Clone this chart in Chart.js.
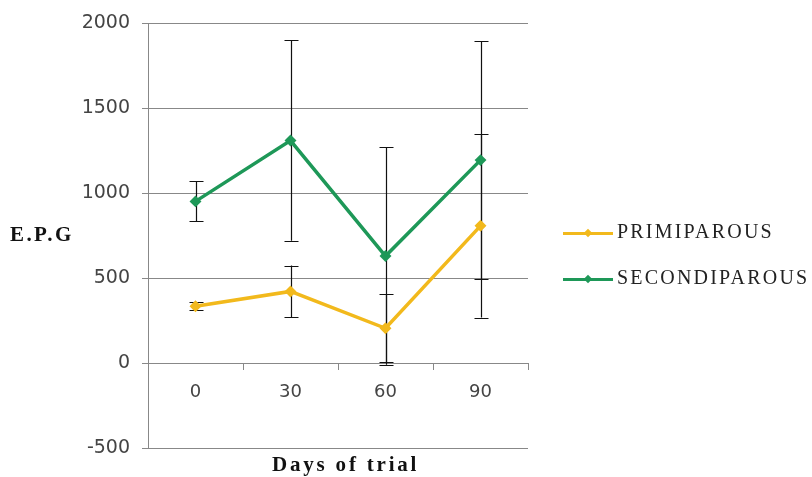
<!DOCTYPE html>
<html>
<head>
<meta charset="utf-8">
<script src="https://cdn.jsdelivr.net/npm/chart.js@4.4.1/dist/chart.umd.min.js"></script>
<style>
  html, body { margin: 0; padding: 0; background: #fff; }
  #wrap { position: relative; width: 812px; height: 477px; }
  #epgChart { position: absolute; left: 0; top: 0; }
  .axisTitle { position: absolute; font-family: "Liberation Serif", serif; font-weight: bold; font-size: 21px; color: #111; white-space: nowrap; }
  .legendItem { position: absolute; left: 563px; height: 20px; font-family: "Liberation Serif", serif; font-size: 20px; color: #222; white-space: nowrap; }
  .legendItem .ln { position: absolute; left: 0; top: 9px; width: 50px; height: 3px; }
  .legendItem .dm { position: absolute; left: 22px; top: 7px; width: 6px; height: 6px; transform: rotate(45deg); }
  .legendItem .tx { position: absolute; left: 54px; top: -3px; letter-spacing: 2.2px; }
</style>
</head>
<body>
<div id="wrap">
  <canvas id="epgChart" width="812" height="477"></canvas>
  <div class="axisTitle" style="left:10px; top:222px; letter-spacing:2.4px;">E.P.G</div>
  <div class="axisTitle" style="left:272px; top:452px; letter-spacing:2.8px;">Days of trial</div>
  <div id="legend"></div>
</div>
<script>
const days = ['0', '30', '60', '90'];
const primiparous = [335, 422, 205, 808];
const primiErr = [25, 152, 200, 540];
const secondiparous = [952, 1310, 630, 1195];
const secondiErr = [118, 590, 640, 700];
const yTicks = [-500, 0, 500, 1000, 1500, 2000];

const yellow = 'rgb(242, 185, 28)';
const green = 'rgb(30, 152, 88)';

const errorBars = {
    id: 'errorBars',
    beforeDatasetsDraw(chart) {
        const ctx = chart.ctx;
        const yScale = chart.scales.y;
        ctx.save();
        ctx.strokeStyle = '#111';
        ctx.lineWidth = 1.2;
        chart.data.datasets.forEach((ds, i) => {
            const meta = chart.getDatasetMeta(i);
            meta.data.forEach((pt, j) => {
                const top = yScale.getPixelForValue(ds.data[j] + ds.errors[j]);
                const bot = yScale.getPixelForValue(ds.data[j] - ds.errors[j]);
                const x = Math.round(pt.x) + 0.5;
                ctx.beginPath();
                ctx.moveTo(x, top);
                ctx.lineTo(x, bot);
                ctx.moveTo(x - 7, Math.round(top) + 0.5);
                ctx.lineTo(x + 7, Math.round(top) + 0.5);
                ctx.moveTo(x - 7, Math.round(bot) + 0.5);
                ctx.lineTo(x + 7, Math.round(bot) + 0.5);
                ctx.stroke();
            });
        });
        ctx.restore();
    }
};

const ctx = document.getElementById('epgChart');

const config = {
    type: 'line',
    data: {
        labels: days,
        datasets: [{
            label: 'PRIMIPAROUS',
            data: primiparous,
            errors: primiErr,
            borderColor: yellow,
            backgroundColor: yellow,
            borderWidth: 3.5,
            pointStyle: 'rectRot',
            pointRadius: 3.5,
            tension: 0
        }, {
            label: 'SECONDIPAROUS',
            data: secondiparous,
            errors: secondiErr,
            borderColor: green,
            backgroundColor: green,
            borderWidth: 3.5,
            pointStyle: 'rectRot',
            pointRadius: 3.5,
            tension: 0
        }]
    },
    options: {
        responsive: false,
        animation: false,
        layout: { padding: { left: 0, right: 284, top: 22, bottom: 29 } },
        plugins: {
            legend: { display: false },
            tooltip: { enabled: false }
        },
        scales: {
            x: {
                position: { y: 0 },
                offset: true,
                grid: {
                    offset: true,
                    drawOnChartArea: false,
                    drawTicks: true,
                    tickLength: 6,
                    color: '#888'
                },
                border: { display: true, color: '#888' },
                ticks: {
                    color: '#444',
                    padding: 12,
                    font: { family: 'DejaVu Sans', size: 18 }
                },
                afterFit(scale) { scale.height = 0; }
            },
            y: {
                min: -500,
                max: 2000,
                afterBuildTicks(scale) {
                    scale.ticks = yTicks.map(v => ({ value: v }));
                },
                grid: {
                    color: '#888',
                    tickLength: 6
                },
                border: { display: true, color: '#888' },
                ticks: {
                    color: '#444',
                    padding: 12,
                    font: { family: 'DejaVu Sans', size: 19 },
                    callback: (v) => String(v)
                },
                afterFit(scale) { scale.width = 148; }
            }
        }
    },
    plugins: [errorBars]
};

new Chart(ctx, config);

// legend built from the datasets
const legend = document.getElementById('legend');
config.data.datasets.forEach((ds, i) => {
    const item = document.createElement('div');
    item.className = 'legendItem';
    item.style.top = (223 + i * 46) + 'px';
    item.innerHTML = '<div class="ln" style="background:' + ds.borderColor + '"></div>' +
        '<div class="dm" style="background:' + ds.borderColor + '"></div>' +
        '<span class="tx"></span>';
    item.querySelector('.tx').textContent = ds.label;
    legend.appendChild(item);
});
</script>
</body>
</html>
